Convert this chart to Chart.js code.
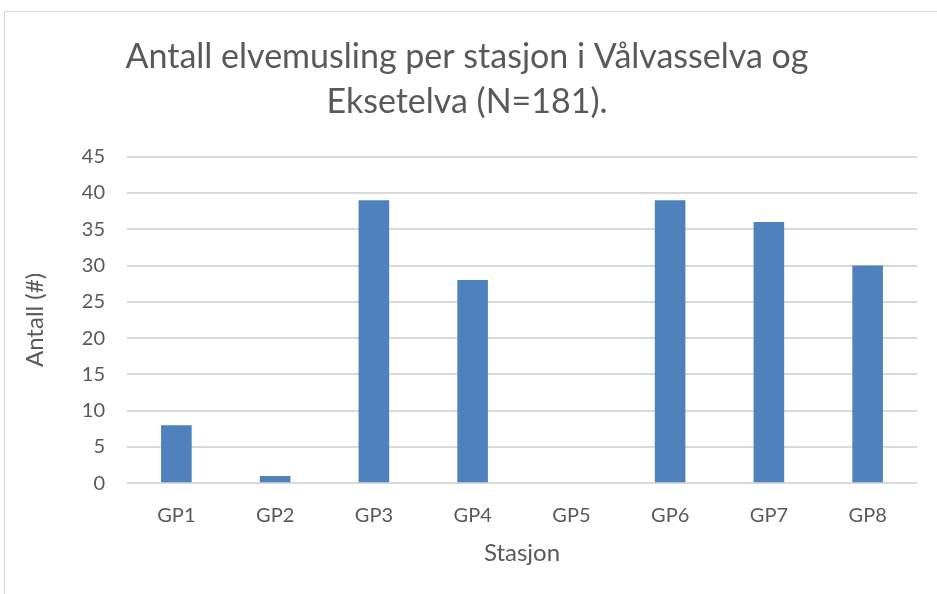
<!DOCTYPE html>
<html>
<head>
<meta charset="utf-8">
<script src="https://cdn.jsdelivr.net/npm/chart.js@4.4.0/dist/chart.umd.min.js"></script>
<style>
  html, body { margin: 0; padding: 0; background: #fff; overflow: hidden; }
  #frame {
    position: absolute; left: 4px; top: 11px;
    width: 960px; height: 620px;
    border: 1px solid #d9d9d9; box-sizing: border-box;
  }
  #wrap { position: absolute; left: 5px; top: 12px; width: 942px; height: 582px; }
</style>
</head>
<body>
<div id="frame"></div>
<div id="wrap"><canvas id="chart"></canvas></div>
<script>
// data
const stasjoner = ['GP1', 'GP2', 'GP3', 'GP4', 'GP5', 'GP6', 'GP7', 'GP8'];
const antall = [8, 1, 39, 28, 0, 39, 36, 30];
const tittel = ['Antall elvemusling per stasjon i Vålvasselva og', 'Eksetelva (N=181).'];

const tekstFarge = '#595959';
const font = 'Lato, "Open Sans", sans-serif';

let chart = new Chart(document.getElementById('chart').getContext('2d'), {
    type: 'bar',
    data: {
        labels: stasjoner,
        datasets: [{
            label: 'Antall',
            data: antall,
            backgroundColor: '#4f81bd',
            barPercentage: 0.31,
            categoryPercentage: 1
        }]
    },
    options: {
        responsive: true,
        maintainAspectRatio: false,
        animation: false,
        layout: { padding: { left: 12, right: 30, top: 23, bottom: 26 } },
        plugins: {
            legend: { display: false },
            tooltip: { enabled: false },
            title: {
                display: true,
                text: tittel,
                color: tekstFarge,
                font: { family: font, size: 34, weight: 'normal', lineHeight: 1.32 },
                padding: { top: 0, bottom: 32 }
            }
        },
        scales: {
            x: {
                grid: { display: false, drawTicks: false },
                border: { display: false },
                ticks: { color: tekstFarge, font: { family: font, size: 20 }, padding: 20 },
                title: {
                    display: true, text: 'Stasjon', color: tekstFarge,
                    font: { family: font, size: 24 }, padding: { top: -8, bottom: 0 }
                }
            },
            y: {
                min: 0, max: 45,
                ticks: { stepSize: 5, color: tekstFarge, font: { family: font, size: 20 }, padding: 22 },
                grid: { color: '#d9d9d9', lineWidth: 2, drawTicks: false },
                border: { display: false },
                title: {
                    display: true, text: 'Antall (#)', color: tekstFarge,
                    font: { family: font, size: 24 }, padding: { bottom: 10 }
                }
            }
        }
    }
});
</script>
</body>
</html>
